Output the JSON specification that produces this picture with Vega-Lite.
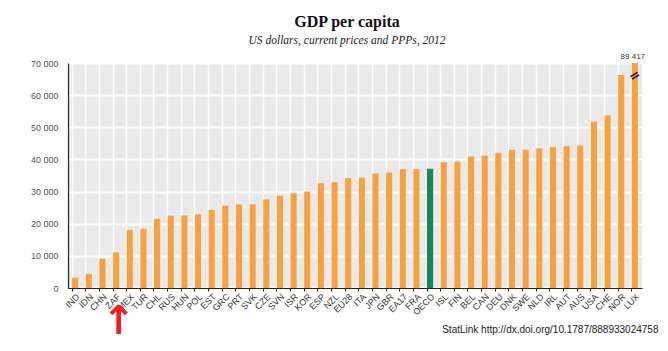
{
  "$schema": "https://vega.github.io/schema/vega-lite/v6.json",
  "autosize": {"type": "none"},
  "width": 574,
  "height": 225,
  "padding": {"left": 68, "top": 63, "right": 26, "bottom": 63},
  "background": "white",
  "title": {
    "text": "GDP per capita",
    "subtitle": "US dollars, current prices and PPPs, 2012",
    "font": "Liberation Serif",
    "fontSize": 16,
    "fontWeight": "bold",
    "color": "#111",
    "subtitleFont": "Liberation Serif",
    "subtitleFontSize": 11.5,
    "subtitleFontStyle": "italic",
    "subtitleColor": "#222",
    "subtitlePadding": 5,
    "anchor": "middle",
    "dx": -8,
    "offset": 7
  },
  "config": {
    "view": {"fill": "#e9e9e9", "stroke": null},
    "axis": {"labelFont": "Liberation Sans", "titleFont": "Liberation Sans"}
  },
  "data": {
    "values": [
      {"c": "IND", "v": 3200}, {"c": "IDN", "v": 4400}, {"c": "CHN", "v": 9100}, {"c": "ZAF", "v": 11100},
      {"c": "MEX", "v": 18000}, {"c": "TUR", "v": 18400}, {"c": "CHL", "v": 21500}, {"c": "RUS", "v": 22500},
      {"c": "HUN", "v": 22600}, {"c": "POL", "v": 22900}, {"c": "EST", "v": 24300}, {"c": "GRC", "v": 25600},
      {"c": "PRT", "v": 26000}, {"c": "SVK", "v": 26000}, {"c": "CZE", "v": 27600}, {"c": "SVN", "v": 28700},
      {"c": "ISR", "v": 29500}, {"c": "KOR", "v": 30000}, {"c": "ESP", "v": 32600}, {"c": "NZL", "v": 32900},
      {"c": "EU28", "v": 34200}, {"c": "ITA", "v": 34300}, {"c": "JPN", "v": 35600}, {"c": "GBR", "v": 35900},
      {"c": "EA17", "v": 37000}, {"c": "FRA", "v": 37000}, {"c": "OECD", "v": 37100}, {"c": "ISL", "v": 39100},
      {"c": "FIN", "v": 39300}, {"c": "BEL", "v": 40900}, {"c": "CAN", "v": 41200}, {"c": "DEU", "v": 42100},
      {"c": "DNK", "v": 42900}, {"c": "SWE", "v": 43000}, {"c": "NLD", "v": 43400}, {"c": "IRL", "v": 43900},
      {"c": "AUT", "v": 44100}, {"c": "AUS", "v": 44300}, {"c": "USA", "v": 51800}, {"c": "CHE", "v": 53700},
      {"c": "NOR", "v": 66300}, {"c": "LUX", "v": 89417}
    ]
  },
  "encoding": {
    "x": {
      "field": "c",
      "type": "nominal",
      "sort": null,
      "scale": {"paddingInner": 0.55, "paddingOuter": 0.3},
      "axis": {
        "title": "StatLink  http://dx.doi.org/10.1787/888933024758",
        "titleFontSize": 10,
        "titleFontWeight": "normal",
        "titleColor": "#222",
        "titleAnchor": "end",
        "titleAlign": "right",
        "titlePadding": 8,
        "titleX": 590,
        "labelAngle": -45,
        "labelAlign": "right",
        "labelBaseline": "top",
        "labelFontSize": 9,
        "labelColor": "#333",
        "labelPadding": 1,
        "bandPosition": 0,
        "grid": true,
        "gridColor": "white",
        "gridWidth": 1.5,
        "gridOpacity": 1,
        "domainColor": "#222",
        "domainWidth": 1.2,
        "tickColor": "#222",
        "tickSize": 3
      }
    },
    "y": {
      "field": "v",
      "type": "quantitative",
      "scale": {"domain": [0, 70000], "clamp": true, "nice": false},
      "axis": {
        "title": null,
        "values": [0, 10000, 20000, 30000, 40000, 50000, 60000, 70000],
        "labelExpr": "replace(format(datum.value, ','), ',', ' ')",
        "labelFontSize": 9,
        "labelColor": "#555",
        "labelPadding": 10,
        "ticks": false,
        "grid": true,
        "gridColor": "white",
        "gridWidth": 2,
        "gridOpacity": 1,
        "domainColor": "#222",
        "domainWidth": 1.2
      }
    }
  },
  "layer": [
    {
      "mark": {"type": "bar"},
      "encoding": {
        "color": {
          "condition": {"test": "datum.c === 'OECD'", "value": "#15855a"},
          "value": "#f7a23e"
        }
      }
    },
    {
      "transform": [
        {"filter": "datum.c === 'LUX'"},
        {"calculate": "replace(format(datum.v, ','), ',', ' ')", "as": "lbl"}
      ],
      "mark": {"type": "text", "baseline": "bottom", "align": "center", "dy": -2, "dx": -2, "fontSize": 8, "font": "Liberation Sans", "color": "#333"},
      "encoding": {"text": {"field": "lbl"}, "y": {"datum": 70000}}
    },
    {
      "transform": [{"filter": "datum.c === 'LUX'"}],
      "mark": {"type": "text", "text": "=", "angle": -30, "fontSize": 13, "fontWeight": "bold", "font": "DejaVu Sans", "color": "#111", "baseline": "middle"},
      "encoding": {"y": {"datum": 66000}}
    },
    {
      "transform": [{"filter": "datum.c === 'MEX'"}],
      "mark": {"type": "text", "text": "↑", "fontSize": 40, "fontWeight": "bold", "font": "DejaVu Sans", "color": "#e8202a", "baseline": "top", "dy": 14, "dx": -11},
      "encoding": {"y": {"datum": 0}}
    }
  ]
}
